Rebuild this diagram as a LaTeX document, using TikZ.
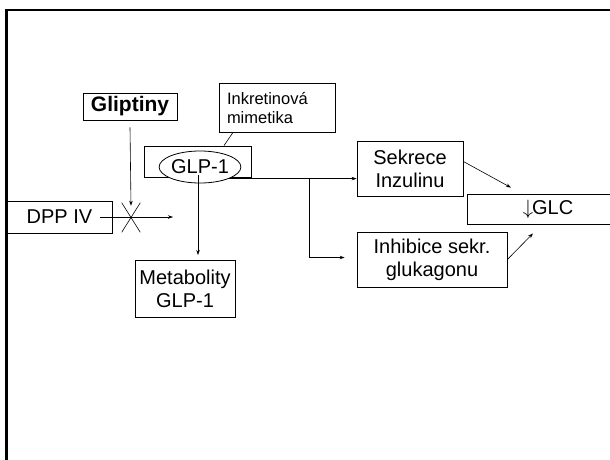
\documentclass[tikz,border=0pt]{standalone}
\usepackage{fontspec}
\setmainfont{Liberation Sans}
\usetikzlibrary{arrows.meta,shapes.misc,shapes.geometric}
\tikzset{
  box/.style={draw,line width=0.8pt,inner sep=0pt,align=center,
    font=\fontsize{20}{23}\selectfont},
  arr/.style={-{Stealth[length=5pt,width=3.5pt]},line width=0.6pt},
}
\begin{document}
\begin{tikzpicture}[x=1pt,y=-1pt]
    \useasboundingbox (0,0) rectangle (610,459);
    \clip (0,0) rectangle (610,459);
    % slide frame
    \draw[line width=2.5pt] (6.5,470) -- (6.5,10) -- (620,10);
    % inhibitor and incretin
    \node[box,minimum width=94,minimum height=27,
      font=\fontsize{21}{24}\selectfont\bfseries] (glip) at (130,106.5) {Gliptiny};
    \node[box,minimum width=116,minimum height=49,text width=100,align=left,
      font=\fontsize{16.5}{19}\selectfont] (inkret) at (277,107.5) {Inkretinová\\mimetika};
    \node[box,minimum width=107,minimum height=31] (glpbox) at (197.5,161.5) {};
    \node[box,ellipse,fill=white,minimum width=80,minimum height=32] (glp) at (200,167) {GLP-1};
    \draw[line width=0.6pt] ([xshift=-44pt]inkret.south) -- ([xshift=26.5pt]glpbox.north);
    % enzyme
    \node[box,minimum width=105,minimum height=32] (dpp) at (59.5,217) {DPP IV};
    \node[draw,cross out,line width=0.6pt,minimum width=18,minimum height=29,
      inner sep=0pt] (block) at (131,217.5) {};
    \coordinate (dppend) at (173,217);
    \draw[arr] ([xshift=-12pt]dpp.east) -- (dppend);
    \draw[arr] ([yshift=-7pt]glip.south) -- ([yshift=-3pt]block.north);
    % degradation
    \node[box,minimum width=100,minimum height=57] (metab) at (185,288.5) {Metabolity\\GLP-1};
    \coordinate (metabin) at (198,255);
    \draw[arr] ([xshift=-2pt,yshift=8pt]glp.south) -- (metabin);
    % effects
    \node[box,minimum width=106,minimum height=55] (sekr) at (410,168.5) {Sekrece\\Inzulinu};
    \node[box,minimum width=150,minimum height=55] (inhib) at (432,259.5) {Inhibice sekr.\\glukagonu};
    \node[box,minimum width=162,minimum height=30] (glc) at (548,209) {$\downarrow$\kern-1pt GLC};
    \draw[arr] (glp.south east) -- (glp.south east -| sekr.west);
    \draw[arr] ([xshift=80pt]glp.south east) |- ([xshift=-12pt,yshift=2pt]inhib.west);
    \draw[arr] ([yshift=7pt]sekr.east) -- ([xshift=-37pt,yshift=6pt]glc.north);
    \draw[arr] (inhib.east) -- ([xshift=-15pt,yshift=-9pt]glc.south);
\end{tikzpicture}
\end{document}
